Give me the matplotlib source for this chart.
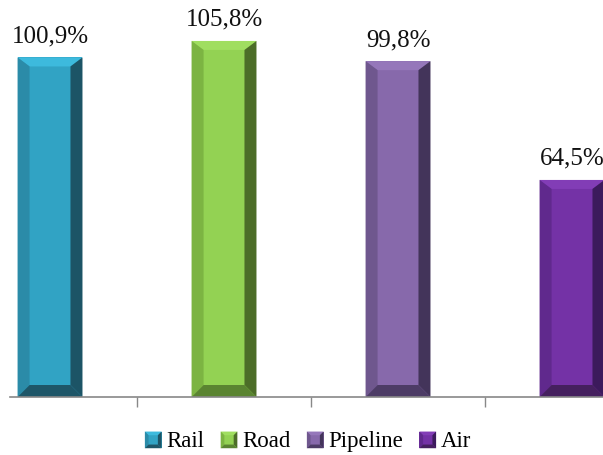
import matplotlib.pyplot as plt
from matplotlib.patches import Polygon, Rectangle
from matplotlib.legend_handler import HandlerBase

# Share of 2008 freight volume by transport mode
modes = ["Rail", "Road", "Pipeline", "Air"]
values = [100.9, 105.8, 99.8, 64.5]
labels = ["100,9%", "105,8%", "99,8%", "64,5%"]

# face, top, left, right, bottom shades for each bar
shades = {
    "Rail":     ["#31a3c4", "#3dbadd", "#2b8ba8", "#1c5466", "#1e5668"],
    "Road":     ["#93d253", "#a0de60", "#7cb442", "#4c6d28", "#5a8431"],
    "Pipeline": ["#8769ab", "#9577ba", "#6f578e", "#43345a", "#4d3c66"],
    "Air":      ["#7432a6", "#823db6", "#60298d", "#3c1a5c", "#45205f"],
}

plt.rcParams["font.family"] = ["Liberation Serif", "DejaVu Serif"]

fig = plt.figure(figsize=(6.03, 4.55), dpi=100)
ax = fig.add_axes([10 / 603, 58 / 455, 593 / 603, 387 / 455])

bar_w = 0.373
x_lim = (-0.23, 3.178)
y_lim = (0, 115)
ax.set_xlim(*x_lim)
ax.set_ylim(*y_lim)

# bevel sizes in pixels converted to data units
px_x = (x_lim[1] - x_lim[0]) / 593
px_y = (y_lim[1] - y_lim[0]) / 387
bx, bt, bb = 12 * px_x, 9 * px_y, 12 * px_y


def bevel_bar(ax, xc, h, cols):
    x0, x1 = xc - bar_w / 2, xc + bar_w / 2
    face, top, left, right, bottom = cols
    ax.add_patch(Rectangle((x0, 0), x1 - x0, h, color=face, lw=0))
    polys = [
        ([(x0, h), (x1, h), (x1 - bx, h - bt), (x0 + bx, h - bt)], top),
        ([(x0, 0), (x0, h), (x0 + bx, h - bt), (x0 + bx, bb)], left),
        ([(x1, 0), (x1, h), (x1 - bx, h - bt), (x1 - bx, bb)], right),
        ([(x0, 0), (x1, 0), (x1 - bx, bb), (x0 + bx, bb)], bottom),
    ]
    for pts, c in polys:
        ax.add_patch(Polygon(pts, closed=True, color=c, lw=0))


for i, (m, v, lab) in enumerate(zip(modes, values, labels)):
    bevel_bar(ax, i, v, shades[m])
    ax.text(i, v + 3.0, lab, ha="center", va="bottom", fontsize=18,
            color="#111111", clip_on=False)

for side in ["top", "left", "right"]:
    ax.spines[side].set_visible(False)
ax.spines["bottom"].set_color("#888888")
ax.spines["bottom"].set_linewidth(1.2)
ax.set_yticks([])
ax.set_xticks([0.5, 1.5, 2.5])
ax.set_xticklabels([])
ax.tick_params(axis="x", length=7, width=1, color="#888888", direction="out")


class BevelSquare(HandlerBase):
    def __init__(self, cols):
        super().__init__()
        self.cols = cols

    def create_artists(self, legend, orig, xd, yd, w, h, fs, trans):
        face, top, left, right, bottom = self.cols
        s = 12 * fig.dpi / 72 * 0.72
        x0, y0 = xd + w - s, yd + (h - s) / 2 - 1
        b = s * 0.22
        arts = [Rectangle((x0, y0), s, s, color=face, lw=0, transform=trans)]
        pts = [
            ([(x0, y0 + s), (x0 + s, y0 + s), (x0 + s - b, y0 + s - b), (x0 + b, y0 + s - b)], top),
            ([(x0, y0), (x0, y0 + s), (x0 + b, y0 + s - b), (x0 + b, y0 + b)], left),
            ([(x0 + s, y0), (x0 + s, y0 + s), (x0 + s - b, y0 + s - b), (x0 + s - b, y0 + b)], right),
            ([(x0, y0), (x0 + s, y0), (x0 + s - b, y0 + b), (x0 + b, y0 + b)], bottom),
        ]
        for p, c in pts:
            arts.append(Polygon(p, closed=True, color=c, lw=0, transform=trans))
        return arts


handles = [Rectangle((0, 0), 1, 1) for _ in modes]
fig.legend(handles, modes, loc="center", bbox_to_anchor=(310 / 603, 1 - 441 / 455),
           ncol=4, frameon=False, prop={"family": "Liberation Serif", "size": 16.5},
           handlelength=0.55, handletextpad=0.2, columnspacing=0.9,
           handler_map={h: BevelSquare(shades[m]) for h, m in zip(handles, modes)})

fig.savefig("out.png", dpi=100)
